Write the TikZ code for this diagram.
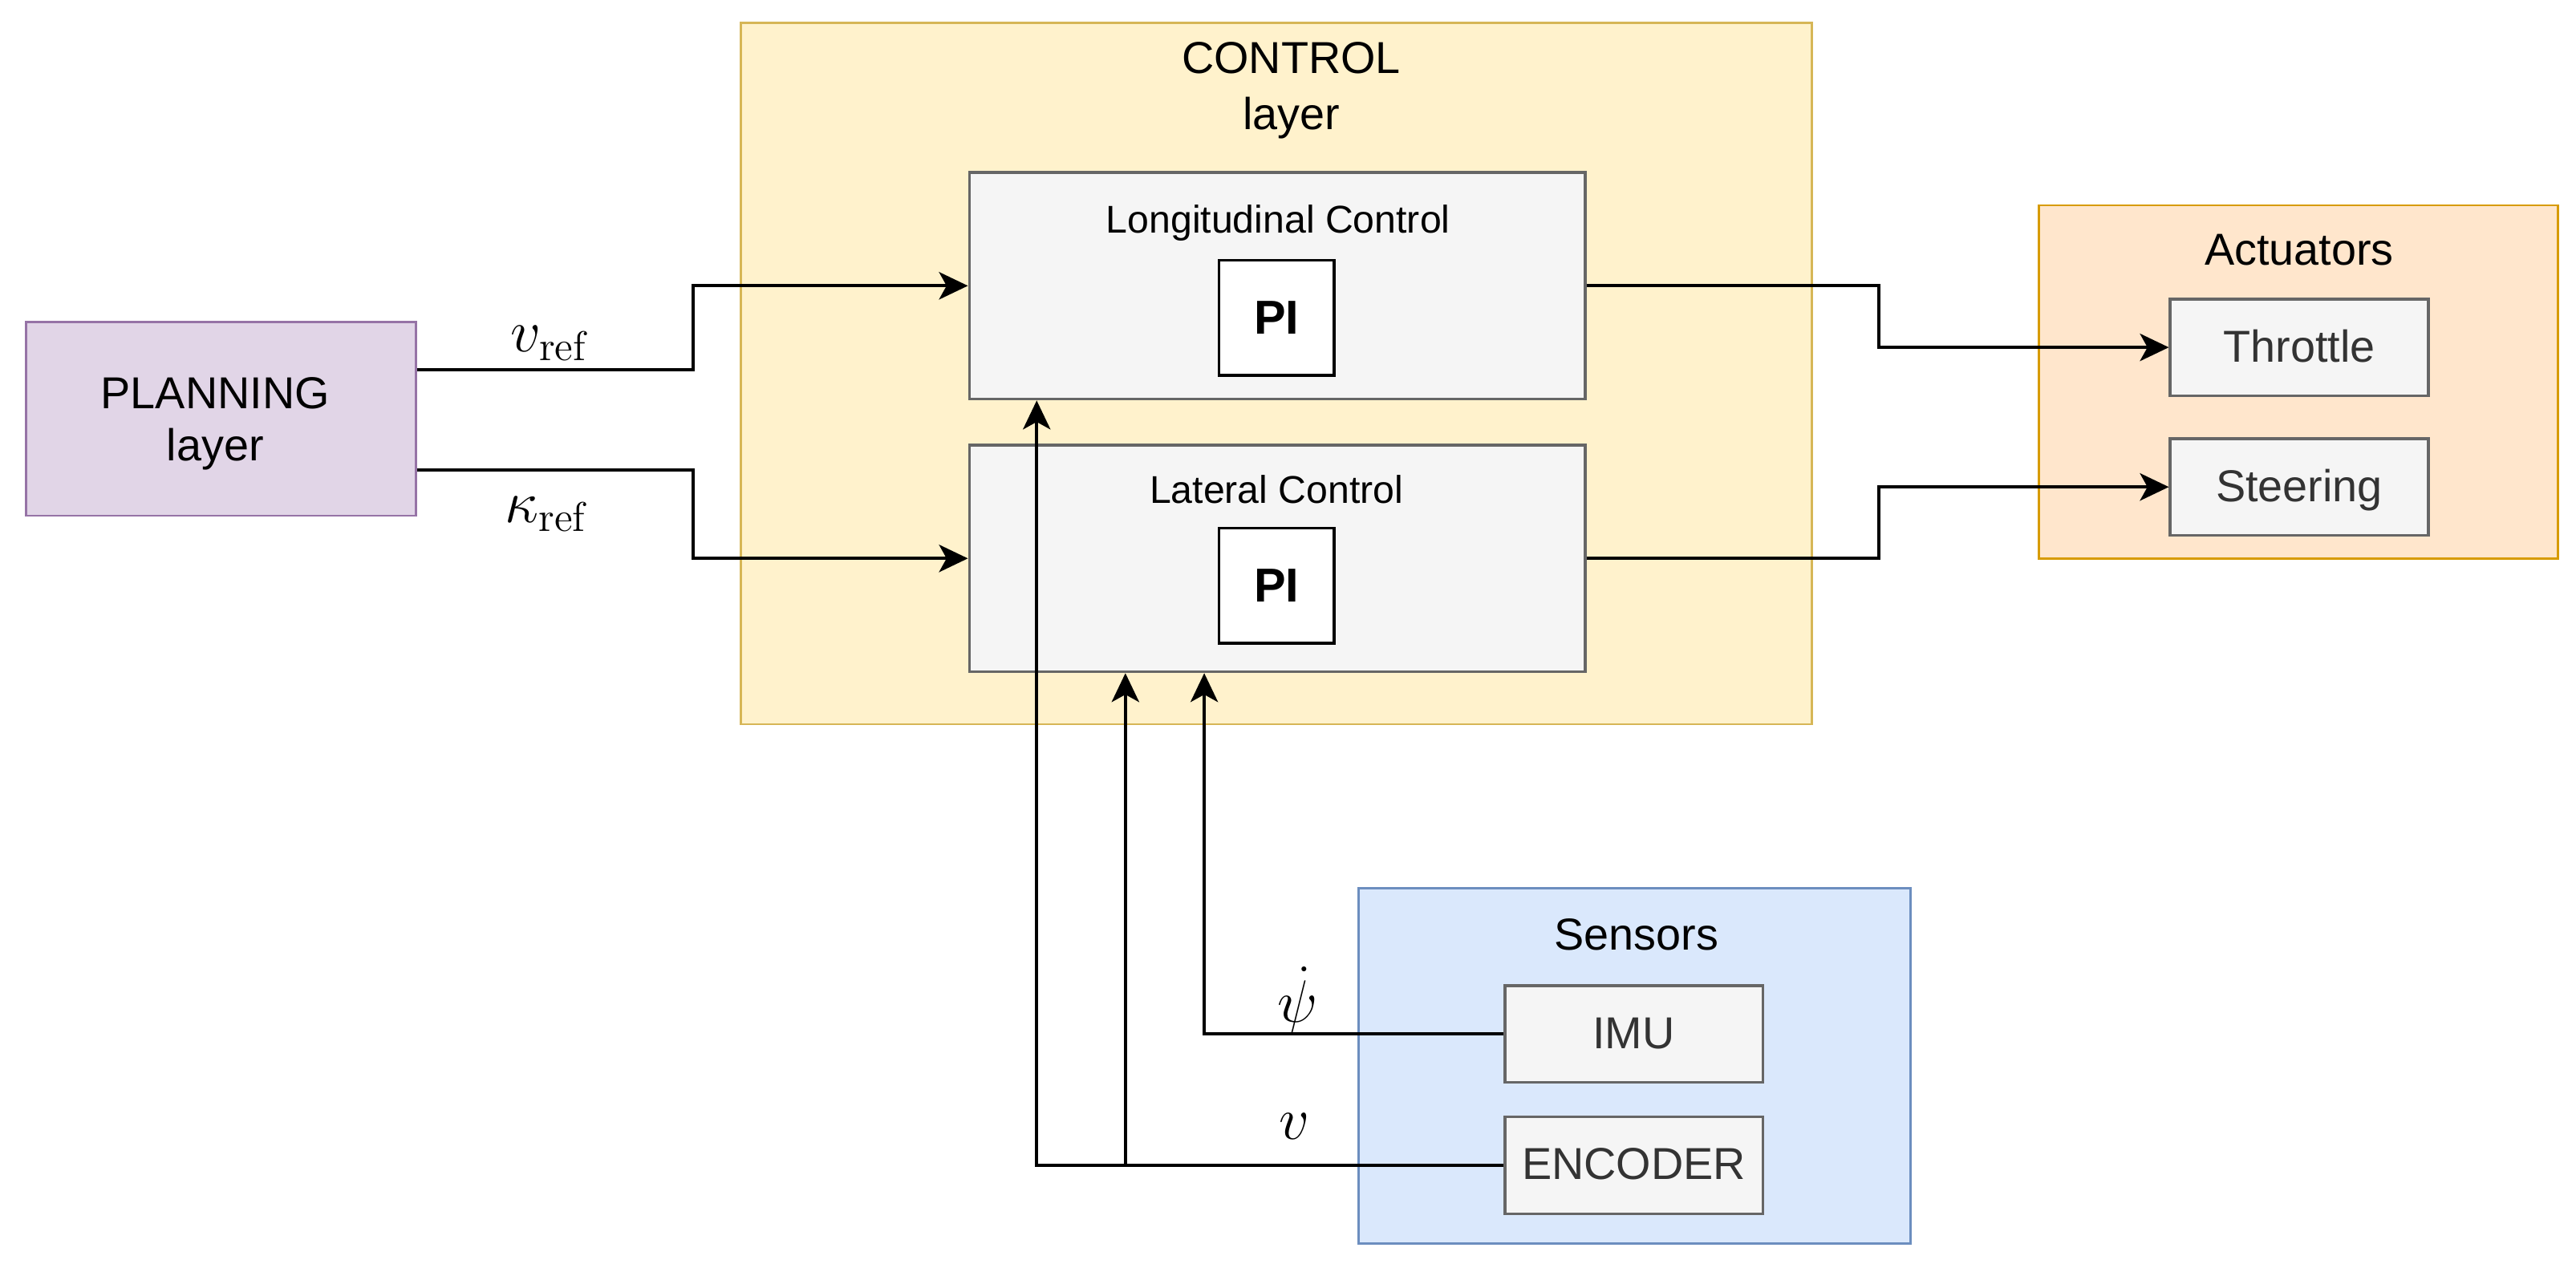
\documentclass[tikz,border=0pt]{standalone}
\usepackage{amsmath}
\usepackage[no-math]{fontspec}
\setmainfont{Liberation Sans}
\usepackage{xcolor}
\usepackage{tikz}
\usetikzlibrary{arrows.meta,positioning,calc}
\definecolor{planfill}{HTML}{E1D5E7}
\definecolor{planedge}{HTML}{9673A6}
\definecolor{ctrlfill}{HTML}{FFF2CC}
\definecolor{ctrledge}{HTML}{D6B656}
\definecolor{actfill}{HTML}{FFE6CC}
\definecolor{actedge}{HTML}{D79B00}
\definecolor{sensfill}{HTML}{DAE8FC}
\definecolor{sensedge}{HTML}{6C8EBF}
\definecolor{blkfill}{HTML}{F5F5F5}
\definecolor{blkedge}{HTML}{666666}
\definecolor{blktext}{HTML}{333333}
\newcommand{\GroupFont}{\fontsize{15.5}{19.3}\selectfont}

\begin{document}
\begin{tikzpicture}[x=0.02cm,y=-0.02cm,
  sig/.style={-{Stealth[length=10pt,width=9.5pt,inset=2.6pt]},line width=1.1pt,black},
  groupbox/.style={line width=0.8pt},
  blockbox/.style={draw=blkedge,fill=blkfill,line width=1pt,
    minimum width=7.5cm,minimum height=2.76cm},
  unitbox/.style={draw=blkedge,fill=blkfill,line width=1pt,text=blktext,
    minimum width=3.14cm,minimum height=1.18cm,font=\GroupFont,
    text height=12pt,text depth=2pt},
  pibox/.style={draw=black,fill=white,line width=1pt,minimum size=1.4cm,
    font=\fontsize{16.5}{19}\selectfont\bfseries},
  grouplbl/.style={font=\GroupFont,align=center},
  blocklbl/.style={font=\fontsize{13.4}{16}\selectfont},
  siglbl/.style={font=\fontsize{19.5}{22}\selectfont,inner sep=1pt}]
\useasboundingbox (0,0) rectangle (1568,774);

\node[groupbox,draw=ctrledge,fill=ctrlfill,minimum width=13.04cm,minimum height=8.54cm] (ctrl) at (777,227.5) {};
\node[grouplbl] (ctrllbl) at (786,55) {CONTROL\\layer};
\node[blockbox] (long) at (777.5,174) {};
\node[blocklbl] (longlbl) at (778,136) {Longitudinal Control};
\node[pibox] (longpi) at (777,193.5) {PI};
\node[blockbox] (lat) at (777.5,340) {};
\node[blocklbl] (latlbl) at (777,298) {Lateral Control};
\node[pibox] (latpi) at (777,356.5) {PI};

\node[groupbox,draw=planedge,fill=planfill,minimum width=4.74cm,minimum height=2.36cm] (plan) at (134.5,255) {};
\node[grouplbl] (planlbl) at (131,258) {PLANNING\\[-1pt]layer};

\node[groupbox,draw=actedge,fill=actfill,minimum width=6.32cm,minimum height=4.3cm] (act) at (1399,232.5) {};
\node[grouplbl] (actlbl) at (1399.5,152) {Actuators};
\node[unitbox] (thr) at (1399.5,211.5) {Throttle};
\node[unitbox] (steer) at (1399.5,296.5) {Steering};

\node[groupbox,draw=sensedge,fill=sensfill,minimum width=6.72cm,minimum height=4.32cm] (sens) at (995,649) {};
\node[grouplbl] (senslbl) at (996,569) {Sensors};
\node[unitbox] (imu) at (994.5,629.5) {IMU};
\node[unitbox] (enc) at (994.5,709.5) {ENCODER};

\draw[sig] ([yshift=0.6cm]plan.east) -- ++(168,0) |- (long.west);
\draw[sig] ([yshift=-0.62cm]plan.east) -- ++(168,0) |- (lat.west);
\draw[sig] (long.east) -- ++(178,0) |- (thr.west);
\draw[sig] (lat.east) -- ++(178,0) |- (steer.west);
\draw[sig] (imu.west) -| ([xshift=-0.89cm]lat.south);
\draw[sig] (enc.west) -| ([xshift=-2.93cm]long.south);
\draw[sig] ([xshift=-1.85cm]lat.south |- enc.west) -- ([xshift=-1.85cm]lat.south);

\node[siglbl] (vref) at (335,209) {$v_{\mathrm{ref}}$};
\node[siglbl] (kref) at (333,313) {$\kappa_{\mathrm{ref}}$};
\node[siglbl] (psid) at (790,609) {$\dot{\psi}$};
\node[siglbl] (vmeas) at (788,686) {$v$};
\end{tikzpicture}
\end{document}
